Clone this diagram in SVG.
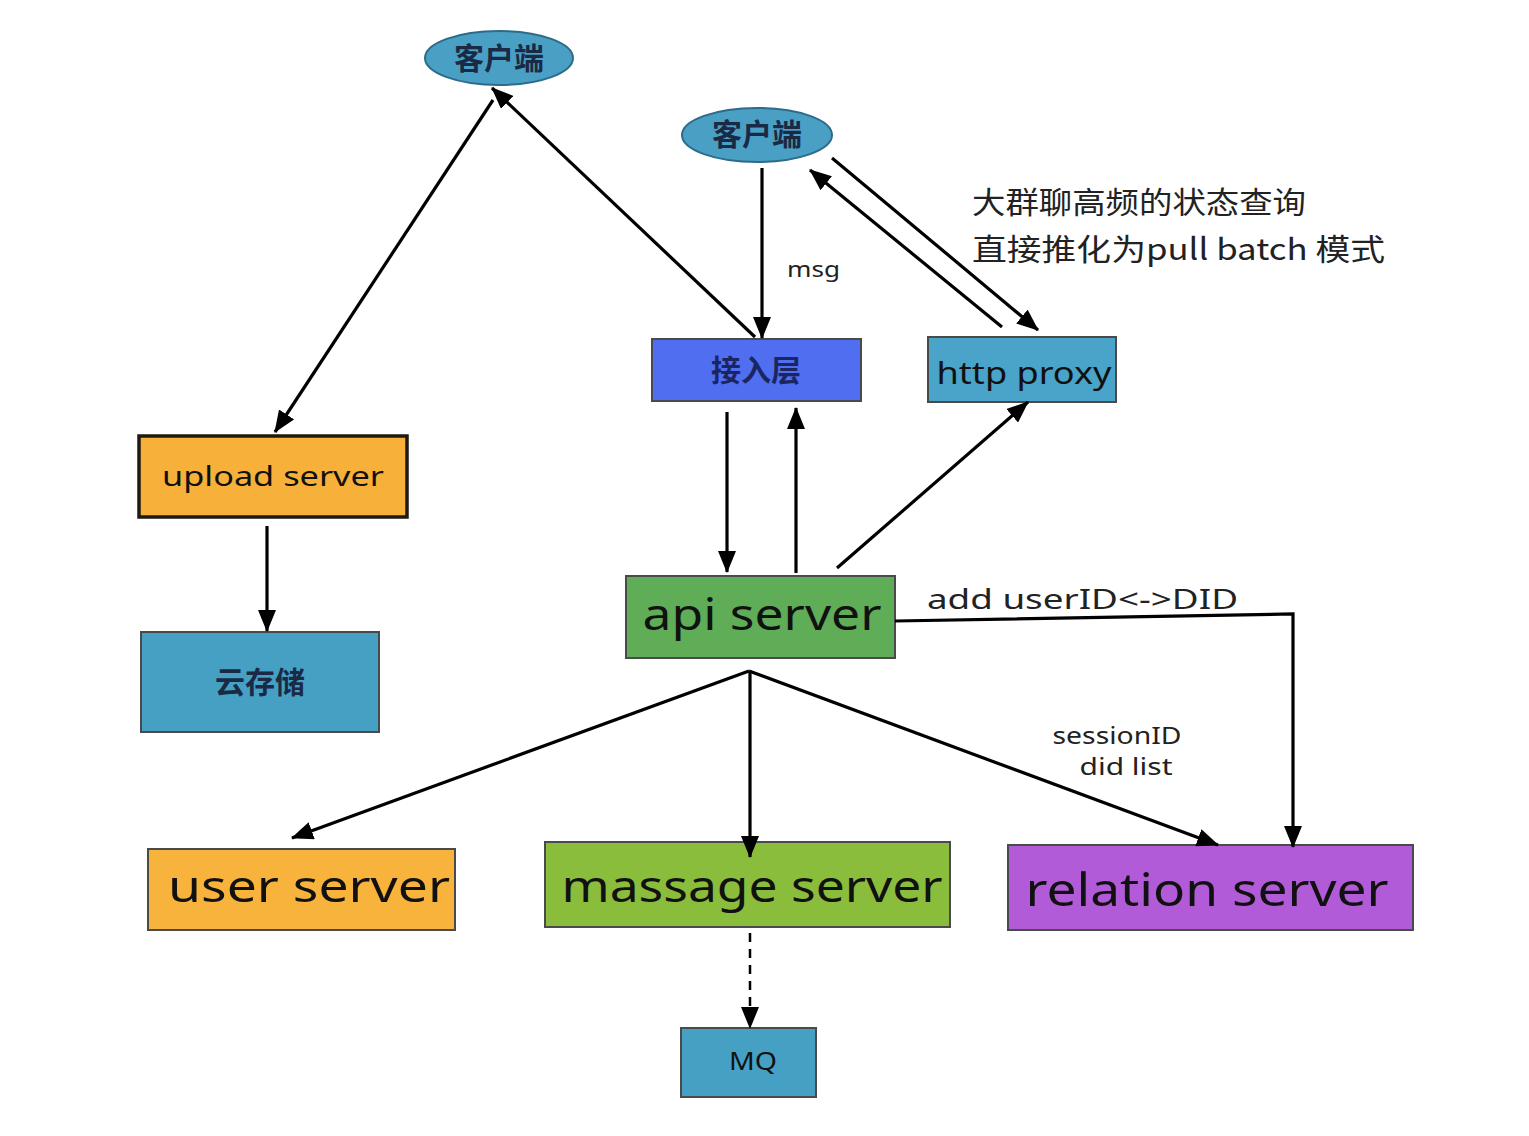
<svg xmlns="http://www.w3.org/2000/svg" width="1529" height="1136" viewBox="0 0 1529 1136">
<defs>
<marker id="ah" viewBox="0 0 22 18" refX="21" refY="9" markerWidth="22" markerHeight="18" orient="auto" markerUnits="userSpaceOnUse"><path d="M0,0 L22,9 L0,18 z" fill="#000"/></marker>
<style>
.ln{stroke:#000;stroke-width:3.2;fill:none}
.dash{stroke:#000;stroke-width:2.5;fill:none;stroke-dasharray:9 7}
.box{stroke:#4a4a4a;stroke-width:2}
.cn{font-family:"Noto Sans CJK SC","Noto Sans",sans-serif;font-weight:bold;text-anchor:middle;dominant-baseline:central}
.en{font-family:"Noto Sans","Liberation Sans",sans-serif;text-anchor:middle;dominant-baseline:central;fill:#111}
.lbl{font-family:"Noto Sans","Liberation Sans",sans-serif;dominant-baseline:central;fill:#222}
.note{font-family:"Noto Sans CJK SC","Noto Sans",sans-serif;dominant-baseline:central;fill:#222}
</style>
</defs>
<rect width="1529" height="1136" fill="#fff"/>

<g id="client1">
  <ellipse cx="499" cy="58" rx="74" ry="27" fill="#4a9fc4" stroke="#2d6b8a" stroke-width="2"/>
  <text class="cn" x="499" y="56" font-size="30" fill="#1a2a44">客户端</text>
</g>
<g id="client2">
  <ellipse cx="757" cy="135" rx="75" ry="27" fill="#4a9fc4" stroke="#2d6b8a" stroke-width="2"/>
  <text class="cn" x="757" y="132" font-size="30" fill="#1a2a44">客户端</text>
</g>
<g id="access">
  <rect class="box" x="652" y="339" width="209" height="62" fill="#4f6ef0"/>
  <text class="cn" x="756" y="368" font-size="30" fill="#1b2660">接入层</text>
</g>
<g id="httpproxy">
  <rect class="box" x="928" y="337" width="188" height="65" fill="#4aa3c8"/>
  <text class="en" x="1024" y="372" font-size="30" textLength="175" lengthAdjust="spacingAndGlyphs">http proxy</text>
</g>
<g id="note">
  <text class="note" x="972" y="200" font-size="30" textLength="334" lengthAdjust="spacingAndGlyphs">大群聊高频的状态查询</text>
  <text class="note" x="972" y="247" font-size="30" textLength="413" lengthAdjust="spacingAndGlyphs">直接推化为pull batch 模式</text>
</g>
<g id="upload">
  <rect x="139" y="436" width="268" height="81" fill="#f7b13a" stroke="#1e1a10" stroke-width="3.5"/>
  <text class="en" x="273" y="475" font-size="28" textLength="222" lengthAdjust="spacingAndGlyphs">upload server</text>
</g>
<g id="cloudstorage">
  <rect class="box" x="141" y="632" width="238" height="100" fill="#45a0c4"/>
  <text class="cn" x="260" y="680" font-size="30" fill="#1a2a44">云存储</text>
</g>
<g id="apiserver">
  <rect class="box" x="626" y="576" width="269" height="82" fill="#5fad56"/>
  <text class="en" x="762" y="613" font-size="44" textLength="239" lengthAdjust="spacingAndGlyphs">api server</text>
</g>
<g id="userserver">
  <rect class="box" x="148" y="849" width="307" height="81" fill="#f8b33c"/>
  <text class="en" x="309" y="885" font-size="44" textLength="282" lengthAdjust="spacingAndGlyphs">user server</text>
</g>
<g id="massageserver">
  <rect class="box" x="545" y="842" width="405" height="85" fill="#8bbd3c"/>
  <text class="en" x="752" y="885" font-size="44" textLength="381" lengthAdjust="spacingAndGlyphs">massage server</text>
</g>
<g id="relationserver">
  <rect class="box" x="1008" y="845" width="405" height="85" fill="#b25bd8"/>
  <text class="en" x="1207" y="888" font-size="46" textLength="363" lengthAdjust="spacingAndGlyphs">relation server</text>
</g>
<g id="mq">
  <rect class="box" x="681" y="1028" width="135" height="69" fill="#45a0c4"/>
  <text class="en" x="753" y="1060" font-size="26" textLength="48" lengthAdjust="spacingAndGlyphs">MQ</text>
</g>

<g id="connectors">
  <line class="ln" x1="755" y1="337" x2="492" y2="88" marker-end="url(#ah)"/>
  <line class="ln" x1="493" y1="100" x2="275" y2="432" marker-end="url(#ah)"/>
  <line class="ln" x1="762" y1="168" x2="762" y2="338" marker-end="url(#ah)"/>
  <line class="ln" x1="1002" y1="327" x2="810" y2="170" marker-end="url(#ah)"/>
  <line class="ln" x1="832" y1="158" x2="1038" y2="330" marker-end="url(#ah)"/>
  <line class="ln" x1="727" y1="412" x2="727" y2="572" marker-end="url(#ah)"/>
  <line class="ln" x1="796" y1="573" x2="796" y2="408" marker-end="url(#ah)"/>
  <line class="ln" x1="837" y1="568" x2="1028" y2="402" marker-end="url(#ah)"/>
  <line class="ln" x1="267" y1="526" x2="267" y2="631" marker-end="url(#ah)"/>
  <line class="ln" x1="749" y1="671" x2="292" y2="838" marker-end="url(#ah)"/>
  <line class="ln" x1="750" y1="671" x2="750" y2="857" marker-end="url(#ah)"/>
  <line class="ln" x1="749" y1="671" x2="1218" y2="845" marker-end="url(#ah)"/>
  <polyline class="ln" points="895,621 1293,614 1293,847" marker-end="url(#ah)"/>
  <line class="dash" x1="750" y1="933" x2="750" y2="1028" marker-end="url(#ah)"/>
  <text class="lbl" x="787" y="268" font-size="22" textLength="53" lengthAdjust="spacingAndGlyphs">msg</text>
  <text class="lbl" x="927" y="598" font-size="28" textLength="311" lengthAdjust="spacingAndGlyphs">add userID&lt;-&gt;DID</text>
  <text class="lbl" x="1117" y="735" font-size="23" text-anchor="middle" textLength="129" lengthAdjust="spacingAndGlyphs">sessionID</text>
  <text class="lbl" x="1126" y="766" font-size="23" text-anchor="middle" textLength="93" lengthAdjust="spacingAndGlyphs">did list</text>
</g>
</svg>
